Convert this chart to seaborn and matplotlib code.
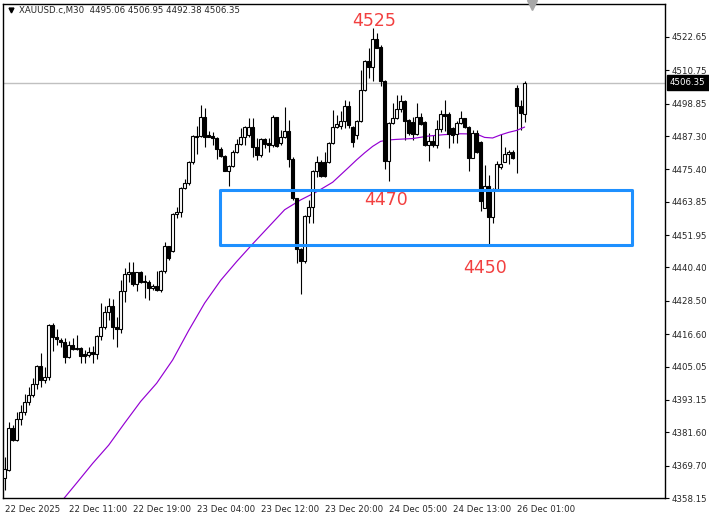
import numpy as np
import pandas as pd
import seaborn as sns
import matplotlib
matplotlib.use("Agg")
import matplotlib.pyplot as plt
from matplotlib.patches import Rectangle
from matplotlib.transforms import blended_transform_factory

symbol_title = "XAUUSD.c,M30  4495.06 4506.95 4492.38 4506.35"

# M30 candles, oldest first
opens = [4365.2, 4368.2, 4383.0, 4378.9, 4386.2, 4389.0, 4392.5, 4394.9, 4398.7, 4405.3,
         4400.3, 4401.4, 4419.8, 4415.7, 4414.6, 4413.7, 4408.4, 4412.6, 4411.6, 4411.6,
         4409.4, 4409.0, 4410.3, 4409.4, 4416.0, 4419.1, 4424.5, 4426.7, 4419.3, 4418.4,
         4432.0, 4438.1, 4438.9, 4434.4, 4438.9, 4435.6, 4435.1, 4433.0, 4433.8, 4432.4,
         4439.2, 4448.1, 4446.3, 4459.5, 4460.3, 4468.9, 4470.7, 4478.2, 4486.9, 4487.3,
         4494.0, 4487.7, 4487.3, 4486.5, 4482.6, 4480.2, 4474.9, 4476.6, 4481.6, 4484.5,
         4487.1, 4487.7, 4490.6, 4483.5, 4480.5, 4486.1, 4484.7, 4484.1, 4494.0, 4484.9,
         4487.1, 4489.2, 4479.0, 4465.1, 4446.9, 4442.8, 4458.8, 4462.1, 4474.9, 4478.2,
         4478.2, 4478.2, 4484.7, 4490.4, 4490.9, 4492.8, 4498.1, 4490.6, 4487.7, 4492.7,
         4503.7, 4514.1, 4512.0, 4521.9, 4519.2, 4507.0, 4478.4, 4492.0, 4493.7, 4497.0,
         4499.8, 4493.0, 4492.3, 4488.0, 4494.1, 4492.3, 4484.0, 4485.5, 4484.1, 4489.8,
         4495.2, 4495.2, 4490.2, 4488.0, 4492.0, 4493.7, 4490.6, 4479.6, 4488.4, 4485.2,
         4461.7, 4469.6, 4458.5, 4468.4, 4476.3, 4478.2, 4480.9, 4481.6, 4504.6, 4498.1,
         4495.06]
highs = [4372.9, 4385.4, 4384.2, 4389.0, 4391.3, 4395.3, 4397.9, 4400.9, 4405.6, 4409.8,
         4405.0, 4420.2, 4420.7, 4418.4, 4415.2, 4415.2, 4414.3, 4415.3, 4416.3, 4411.9,
         4411.0, 4411.9, 4412.4, 4416.3, 4427.8, 4426.7, 4429.4, 4429.2, 4422.6, 4435.9,
         4440.1, 4442.3, 4442.3, 4438.9, 4439.3, 4437.7, 4435.9, 4434.5, 4439.2, 4439.5,
         4449.6, 4448.2, 4459.7, 4462.1, 4469.2, 4471.9, 4478.5, 4487.7, 4490.9, 4498.4,
         4497.2, 4489.2, 4488.9, 4487.1, 4483.3, 4480.4, 4476.8, 4482.3, 4486.1, 4490.1,
         4490.9, 4493.6, 4493.6, 4486.5, 4486.5, 4486.5, 4486.5, 4494.8, 4494.2, 4489.5,
         4497.8, 4493.0, 4479.9, 4465.3, 4447.3, 4459.1, 4464.5, 4475.2, 4480.2, 4478.8,
         4481.7, 4485.3, 4496.6, 4494.8, 4496.3, 4500.2, 4499.8, 4490.9, 4492.9, 4510.9,
         4514.4, 4518.8, 4526.0, 4524.1, 4519.6, 4507.2, 4492.4, 4499.1, 4502.0, 4501.9,
         4500.2, 4493.4, 4494.2, 4499.1, 4495.5, 4492.7, 4488.4, 4487.7, 4493.0, 4496.6,
         4500.2, 4496.0, 4490.4, 4492.7, 4496.2, 4493.9, 4490.8, 4489.5, 4489.5, 4485.4,
         4477.0, 4473.4, 4468.9, 4478.4, 4488.0, 4483.5, 4482.3, 4482.3, 4505.5, 4500.2,
         4506.95]
lows = [4361.0, 4367.8, 4378.6, 4378.6, 4384.2, 4387.8, 4391.3, 4394.1, 4397.0, 4397.7,
        4399.1, 4400.3, 4410.7, 4412.8, 4411.9, 4406.2, 4408.0, 4411.0, 4411.1, 4406.2,
        4406.2, 4408.6, 4406.4, 4407.6, 4414.5, 4418.4, 4421.7, 4415.0, 4412.1, 4416.9,
        4428.2, 4435.3, 4433.9, 4432.1, 4435.0, 4429.4, 4428.8, 4432.4, 4432.1, 4431.8,
        4438.5, 4443.1, 4446.0, 4458.0, 4458.5, 4468.3, 4469.8, 4477.3, 4480.9, 4486.8,
        4483.3, 4486.8, 4484.1, 4479.0, 4479.9, 4474.8, 4469.5, 4476.2, 4481.2, 4484.1,
        4484.1, 4487.1, 4479.9, 4478.8, 4479.9, 4482.9, 4481.7, 4483.5, 4483.5, 4484.1,
        4486.5, 4476.2, 4464.5, 4441.9, 4430.9, 4441.9, 4456.2, 4456.4, 4472.8, 4472.6,
        4472.8, 4477.8, 4484.5, 4490.1, 4489.7, 4490.1, 4490.1, 4483.5, 4486.3, 4492.4,
        4503.4, 4508.0, 4507.0, 4518.7, 4505.3, 4475.5, 4471.3, 4491.6, 4493.4, 4496.0,
        4485.9, 4487.7, 4485.9, 4487.7, 4491.2, 4483.9, 4478.4, 4483.5, 4483.1, 4488.9,
        4489.1, 4483.1, 4484.7, 4484.7, 4491.5, 4490.3, 4474.8, 4479.4, 4481.1, 4460.6,
        4461.5, 4448.4, 4456.3, 4468.1, 4475.4, 4477.9, 4477.2, 4479.1, 4474.1, 4489.5,
        4492.38]
closes = [4368.4, 4383.0, 4378.9, 4386.2, 4389.0, 4392.5, 4394.9, 4398.7, 4405.3, 4400.3,
          4401.4, 4419.8, 4415.7, 4414.8, 4413.7, 4408.4, 4412.6, 4411.2, 4411.2, 4408.9,
          4408.9, 4410.4, 4409.4, 4416.0, 4419.1, 4424.5, 4426.7, 4419.3, 4418.4, 4432.0,
          4438.1, 4438.9, 4434.4, 4438.9, 4435.3, 4435.1, 4433.0, 4433.8, 4432.4, 4439.2,
          4448.1, 4443.9, 4459.5, 4460.3, 4468.9, 4470.7, 4478.2, 4487.3, 4487.3, 4494.0,
          4487.1, 4487.1, 4486.5, 4482.6, 4480.2, 4474.9, 4476.6, 4481.6, 4484.5, 4487.1,
          4490.6, 4490.6, 4483.5, 4480.5, 4486.1, 4484.5, 4484.1, 4494.0, 4483.8, 4487.1,
          4489.2, 4479.0, 4465.1, 4446.9, 4442.8, 4458.8, 4462.1, 4474.9, 4478.2, 4473.0,
          4473.0, 4484.9, 4490.6, 4491.5, 4492.8, 4498.1, 4491.2, 4485.1, 4492.7, 4503.7,
          4514.1, 4512.0, 4521.9, 4518.8, 4507.0, 4478.4, 4492.0, 4493.7, 4497.0, 4499.8,
          4492.7, 4488.4, 4488.0, 4494.1, 4491.6, 4484.1, 4485.5, 4484.1, 4489.8, 4495.2,
          4494.6, 4488.0, 4487.7, 4492.0, 4493.7, 4490.6, 4479.6, 4488.4, 4481.6, 4464.1,
          4469.6, 4458.5, 4468.4, 4477.3, 4477.4, 4480.9, 4481.6, 4479.5, 4498.1, 4495.4,
          4506.35]

# moving average (purple line)
ma_bars = [14, 18, 22, 26, 30, 34, 38, 42, 46, 50, 54, 58, 62, 66, 70, 74, 78, 82,
           86, 88, 90, 92, 94, 96, 98, 102, 106, 110, 114, 118, 120, 122, 124, 126, 128, 130]
ma_values = [4356.6, 4363.5, 4370.5, 4377.0, 4384.9, 4392.6, 4399.1, 4407.4, 4417.9,
             4427.7, 4435.8, 4442.5, 4448.8, 4454.9, 4461.0, 4464.5, 4467.4, 4470.8,
             4476.1, 4478.8, 4481.3, 4483.6, 4485.4, 4485.9, 4486.1, 4486.4, 4487.3,
             4487.8, 4488.1, 4488.0, 4486.8, 4486.6, 4487.7, 4488.6, 4489.3, 4490.5]

time_ticks = [0, 16, 32, 48, 64, 80, 96, 112, 128]
time_labels = ["22 Dec 2025", "22 Dec 11:00", "22 Dec 19:00", "23 Dec 04:00",
               "23 Dec 12:00", "23 Dec 20:00", "24 Dec 05:00", "24 Dec 13:00",
               "26 Dec 01:00"]
price_ticks = [4522.65, 4510.75, 4498.85, 4487.30, 4475.40, 4463.85, 4451.95, 4440.40,
               4428.50, 4416.60, 4405.05, 4393.15, 4381.60, 4369.70, 4358.15]
last_price = 4506.35

zone_low, zone_high = 4448.4, 4468.1
zone_start, zone_end = 53.8, 156.8
level_notes = [("4525", 92.3, 4528.4), ("4470", 95.4, 4464.5), ("4450", 120.1, 4440.2)]

sns.set_style("white")
plt.rcParams['font.family'] = ['DejaVu Sans']

df = pd.DataFrame({"open": opens, "high": highs, "low": lows, "close": closes})
df["bar"] = np.arange(len(df))
df["up"] = df["close"] >= df["open"]
df["body_lo"] = df[["open", "close"]].min(axis=1)
df["body_h"] = (df["close"] - df["open"]).abs()

fig = plt.figure(figsize=(7.09, 5.17), dpi=100)
ax = fig.add_axes([3 / 709, 1 - 498 / 517, 662 / 709, 494 / 517])

ax.axhline(last_price, color="#c0c0c0", lw=1, zorder=1)

# wicks then bodies
ax.vlines(df["bar"], df["low"], df["high"], color="black", lw=0.8, zorder=2)
up = df[df["up"]]
dn = df[~df["up"]]
ax.bar(up["bar"], up["body_h"], bottom=up["body_lo"], width=0.6, color="white",
       edgecolor="black", linewidth=0.8, zorder=3)
ax.bar(dn["bar"], dn["body_h"], bottom=dn["body_lo"], width=0.6, color="black",
       edgecolor="black", linewidth=0.8, zorder=3)

sns.lineplot(x=ma_bars, y=ma_values, color="#9400d3", lw=0.85, ax=ax, zorder=2.5)

ax.add_patch(Rectangle((zone_start, zone_low), zone_end - zone_start, zone_high - zone_low,
                       fill=False, edgecolor="#1e90ff", lw=2.2, joinstyle="round", zorder=4))

for txt, bx, py in level_notes:
    ax.text(bx, py, txt, color="#f24040", fontsize=12.5, ha="center", va="center", zorder=5)

ax.set_xlim(-0.42, 165.1)
ax.set_ylim(4358.15, 4534.4)

ax.set_xticks(time_ticks)
ax.set_xticklabels(time_labels, ha="left")
ax.yaxis.tick_right()
ax.set_yticks(price_ticks)
ax.set_yticklabels([f"{p:.2f}" for p in price_ticks])
ax.tick_params(axis="both", direction="out", length=3, width=0.8, color="black",
               labelsize=6.2, pad=2)
for s in ax.spines.values():
    s.set_color("black")
    s.set_linewidth(1)

# current price tag on the price scale
tr = blended_transform_factory(ax.transAxes, ax.transData)
ax.text(1 + 5 / 662, last_price, f"{last_price:.2f}", transform=tr, color="white",
        fontsize=6.2, ha="left", va="center", clip_on=False, zorder=6,
        bbox=dict(boxstyle="square,pad=0.35", facecolor="black", edgecolor="black"))

# chart shift marker and title
ax.plot([0.799], [0.997], marker="v", ms=7, color="#a8a8a8", transform=ax.transAxes,
        clip_on=False, zorder=6)
ax.plot([0.012], [0.988], marker="v", ms=3.5, color="black", transform=ax.transAxes,
        clip_on=False)
fig.text(19 / 709, 1 - 10.5 / 517, symbol_title, fontsize=6.2, va="center", ha="left")

fig.savefig("out.png", dpi=100)
